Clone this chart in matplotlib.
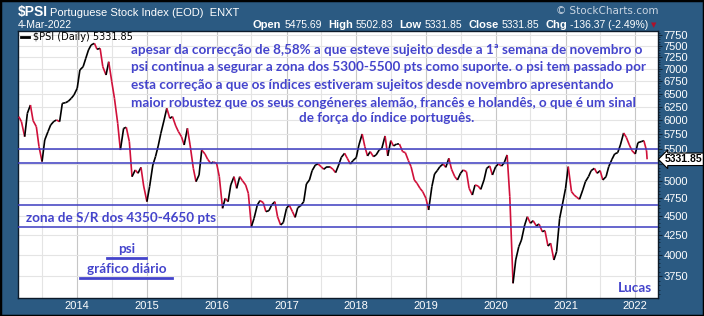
import numpy as np
import pandas as pd
import matplotlib
matplotlib.use("Agg")
import matplotlib.pyplot as plt
import matplotlib.dates as mdates
from matplotlib.collections import LineCollection
from matplotlib.ticker import FixedLocator, NullFormatter
from matplotlib.lines import Line2D
from matplotlib.patches import Rectangle

psi_2013_2015 = [6063, 5972, 5708, 6124, 6279, 5990, 5883, 5539, 5295, 5651,
                 5795, 5912, 5978, 6002, 5972, 6310, 6323, 6349, 6407, 6471,
                 6603, 6978, 7047, 7228, 7411, 7523, 7561, 7426, 7448, 7047,
                 6873, 7153, 6735, 6407, 5942, 5483, 5853, 5871, 5623, 5060,
                 5163, 5112, 5204, 4920, 4693, 4910, 5241, 5375, 5550, 5766,
                 6002, 6217, 6032, 6063, 5895]
psi_2015_2017 = [5795, 5708, 5567, 5853, 5567, 5189, 4985, 5086, 5483, 5418,
                 5332, 5268, 5289, 5268, 5060, 4600, 4740, 4693, 4935, 5060,
                 4885, 5060, 5000, 4935, 4812, 4353, 4463, 4646, 4708, 4680,
                 4554, 4568, 4646, 4693, 4485, 4375, 4406, 4600, 4646, 4554,
                 4476, 4610, 4632, 4693, 4950, 5010, 5153, 5241, 5257, 5215,
                 5174, 5215, 5215, 5174, 5122]
psi_2017_2020 = [5241, 5364, 5429, 5348, 5257, 5311, 5359, 5567, 5754, 5539,
                 5386, 5456, 5375, 5402, 5483, 5510, 5720, 5386, 5640, 5550,
                 5584, 5584, 5456, 5440, 5311, 5215, 5010, 4960, 4885, 4837,
                 4740, 4577, 4910, 5101, 5153, 5215, 5257, 5204, 5348, 5174,
                 5060, 5010, 5112, 5163, 5137, 4885, 4788, 4935, 4920, 4870,
                 5010, 5189, 5225, 5086, 5215]
psi_2020_2022 = [5257, 5225, 5279, 5402, 4764, 3670, 3937, 4098, 4181, 4375,
                 4485, 4397, 4432, 4362, 4388, 4288, 4301, 4106, 4140, 3937,
                 4037, 4463, 4646, 4885, 5215, 4837, 4788, 4755, 4727, 4861,
                 4985, 5060, 5153, 5189, 5112, 5153, 5010, 5060, 5215, 5332,
                 5418, 5440, 5567, 5772, 5697, 5567, 5472, 5418, 5606, 5623,
                 5640, 5470]
last_date = "2022-03-04"
last_close = 5331.85

support_levels = [5500, 5270, 4650, 4350]
y_ticks = list(range(3750, 7751, 250))
year_ticks = list(range(2014, 2023))

ohlc = [("Open", "5475.69"), ("High", "5502.83"), ("Low", "5331.85"),
        ("Close", "5331.85"), ("Chg", "-136.37 (-2.49%)")]

comment = [
    "apesar da correcção de 8,58% a que esteve sujeito desde a 1ª semana de novembro o",
    "psi continua a segurar a zona dos 5300-5500 pts como suporte. o psi tem passado por",
    "esta correção a que os índices estiveram sujeitos desde novembro apresentando",
    "maior robustez que os seus congéneres alemão, francês e holandês, o que é um sinal",
]
comment_last = "de força do índice português."

W, H = 704, 316
BG = "#2b5a82"
BLUE = "#4444cc"
RED = "#d0103a"


def fx(x):
    return x / W


def fy(y):
    return 1 - y / H


dates = pd.date_range("2013-03-01", "2022-03-01", freq="SMS")
dates = dates.append(pd.DatetimeIndex([last_date]))
values = np.array(psi_2013_2015 + psi_2015_2017 + psi_2017_2020 + psi_2020_2022 + [last_close])

fig = plt.figure(figsize=(W / 100, H / 100), dpi=100, facecolor=BG)
ax = fig.add_axes([fx(18), fy(298), (658 - 18) / W, (298 - 31) / H])
ax.set_facecolor("white")
ax.set_yscale("log")

# grid: darker line at each year, lighter at mid-year
for yr in range(2013, 2023):
    ax.axvline(pd.Timestamp(f"{yr}-01-01"), color="#c6c6c6", lw=0.8, zorder=0)
    ax.axvline(pd.Timestamp(f"{yr}-07-01"), color="#e4e4e4", lw=0.8, zorder=0)
for t in y_ticks:
    ax.axhline(t, color="#e4e4e4", lw=0.8, zorder=0)

# price line, black on up moves and red on down moves
x = mdates.date2num(dates)
pts = np.column_stack([x, values])
segs = np.stack([pts[:-1], pts[1:]], axis=1)
cols = np.where(np.diff(values) >= 0, "black", RED)
ax.add_collection(LineCollection(segs, colors=cols, lw=1.2, zorder=3))

for lvl in support_levels:
    ax.axhline(lvl, color="#3c3cc0", lw=1.1, zorder=4)

ax.set_xlim(pd.Timestamp("2013-02-25"), pd.Timestamp("2022-04-30"))
ax.set_ylim(3511, 7847)

# the 5250 label sits under the last-price tag
ax.yaxis.tick_right()
ax.yaxis.set_major_locator(FixedLocator(y_ticks))
ax.yaxis.set_major_formatter(plt.FuncFormatter(lambda v, p: "" if v == 5250 else f"{v:.0f}"))
ax.yaxis.set_minor_locator(FixedLocator(list(range(3550, 7850, 50))))
ax.yaxis.set_minor_formatter(NullFormatter())
ax.tick_params(axis="y", which="major", colors="white", labelsize=8, length=3,
               pad=1, direction="out")
ax.tick_params(axis="y", which="minor", color="#10263a", length=1.5, direction="out")
ax.yaxis.set_tick_params(color="#10263a")
ax.set_xticks([pd.Timestamp(f"{y}-01-01") for y in year_ticks])
ax.set_xticklabels([str(y) for y in year_ticks])
ax.tick_params(axis="x", colors="white", labelsize=8, length=0, pad=2.5)
for lab in ax.get_xticklabels() + ax.get_yticklabels():
    lab.set_fontfamily("Liberation Sans")
for s in ax.spines.values():
    s.set_color("#0c1a2a")
    s.set_linewidth(1.0)

# legend line
fig.add_artist(Line2D([fx(21), fx(29)], [fy(37), fy(37)], color="black", lw=2))
fig.text(fx(33), fy(37), "$PSI (Daily) 5331.85", fontsize=7, color="black",
         va="center", ha="left")

# last price tag
ax.annotate(f"{last_close:.2f}", xy=(1.0, last_close), xycoords=("axes fraction", "data"),
            xytext=(5, 0), textcoords="offset points", ha="left", va="center",
            fontsize=7.5, fontweight="bold", family="Liberation Sans", color="black",
            bbox=dict(boxstyle="larrow,pad=0.12", fc="white", ec="black", lw=0.8),
            annotation_clip=False, zorder=10)

# header
fig.text(fx(18), fy(16), "$PSI", fontsize=10, fontweight="bold", color="white",
         family="Liberation Sans", va="baseline")
fig.text(fx(50), fy(15.5), "Portuguese Stock Index (EOD)  ENXT", fontsize=8, color="white",
         family="Liberation Sans", va="baseline")
fig.text(fx(18), fy(27.5), "4-Mar-2022", fontsize=7.5, color="white",
         family="Liberation Sans", va="baseline")
fig.text(fx(658), fy(14.5), "© StockCharts.com", fontsize=7.5, color="#c9d5e2",
         family="DejaVu Sans", ha="right", va="baseline")

renderer = fig.canvas.get_renderer()
xr = 648
for label, val in reversed(ohlc):
    t = fig.text(fx(xr), fy(27.5), val, fontsize=7.5, color="white",
                 family="Liberation Sans", ha="right", va="baseline")
    bb = t.get_window_extent(renderer)
    xr = bb.x0 - 3
    t = fig.text(fx(xr), fy(27.5), label, fontsize=8, fontweight="bold", color="white",
                 family="Liberation Sans", ha="right", va="baseline")
    bb = t.get_window_extent(renderer)
    xr = bb.x0 - 6
fig.text(fx(651), fy(27), "▼", fontsize=5, color="#b0102a", ha="left", va="baseline")

# annotations in blue
txt = dict(color=BLUE, family="Lato", fontweight="bold", fontsize=9.7)
for i, line in enumerate(comment):
    fig.text(fx(131), fy(49.5 + 17.7 * i), line, ha="left", va="center", **txt)
fig.text(fx(387), fy(118), comment_last, ha="center", va="center", **txt)
fig.text(fx(26), fy(217.5), "zona de S/R dos 4350-4650 pts", ha="left", va="center", **txt)
fig.text(fx(127), fy(249), "psi", ha="center", va="center", **txt)
fig.text(fx(127), fy(269), "gráfico diário", ha="center", va="center", **txt)
fig.text(fx(652), fy(288), "Lucas", ha="right", va="center", **txt)
fig.add_artist(Line2D([fx(107), fx(146)], [fy(257.5), fy(257.5)], color=BLUE, lw=2))
fig.add_artist(Line2D([fx(80), fx(172)], [fy(277.5), fy(277.5)], color=BLUE, lw=2))

fig.patches.append(Rectangle((0, 0), 1, 1, transform=fig.transFigure, fill=False,
                             ec="black", lw=2.5))

fig.savefig("out.png", dpi=100, facecolor=BG)
